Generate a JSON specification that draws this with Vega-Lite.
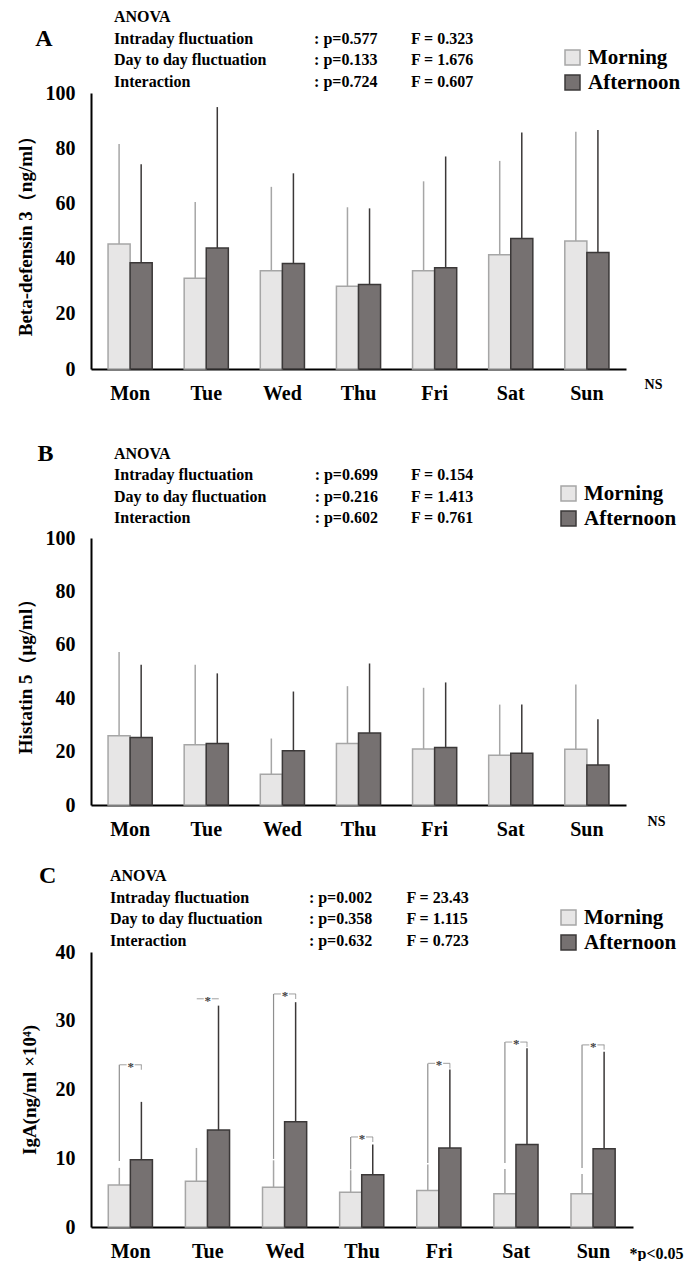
{
  "$schema": "https://vega.github.io/schema/vega-lite/v6.json",
  "padding": {"top": 9, "left": 16, "right": 0, "bottom": 0},
  "background": "white",
  "config": {
    "font": "Liberation Serif",
    "view": {"stroke": null},
    "axis": {"labelFont": "Liberation Serif", "labelFontWeight": "bold", "labelFontSize": 20, "labelColor": "black", "domainColor": "black", "domainWidth": 2, "ticks": false, "grid": false, "titleFont": "Liberation Serif", "titleFontWeight": "bold", "titleFontSize": 19, "titleColor": "black"},
    "axisX": {"labelPadding": 14, "labelAngle": 0},
    "axisY": {"labelPadding": 16, "titlePadding": 10},
    "legend": {"labelFont": "Liberation Serif", "labelFontWeight": "bold", "labelFontSize": 21, "labelColor": "black", "symbolType": "square", "symbolSize": 225, "symbolStrokeWidth": 1.5, "rowPadding": 3, "labelOffset": 5, "padding": 0},
    "text": {"font": "Liberation Serif", "fontWeight": "bold", "color": "black"}
  },
  "resolve": {"scale": {"fill": "independent", "stroke": "independent"}, "legend": {"fill": "independent", "stroke": "independent"}},
  "spacing": 25,
  "vconcat": [
    {
      "spacing": 39,
      "resolve": {"scale": {"fill": "independent", "stroke": "independent"}, "legend": {"fill": "independent", "stroke": "independent"}},
      "vconcat": [
        {
          "width": 535, "height": 276,
          "resolve": {"scale": {"x": "independent", "y": "independent"}},
          "layer": [
            {
              "data": {"values": [
                {"day": "Mon", "time": "Morning", "mean": 45.3, "upper": 81.5},
                {"day": "Mon", "time": "Afternoon", "mean": 38.5, "upper": 74.2},
                {"day": "Tue", "time": "Morning", "mean": 32.9, "upper": 60.5},
                {"day": "Tue", "time": "Afternoon", "mean": 43.8, "upper": 94.9},
                {"day": "Wed", "time": "Morning", "mean": 35.6, "upper": 66.0},
                {"day": "Wed", "time": "Afternoon", "mean": 38.2, "upper": 70.9},
                {"day": "Thu", "time": "Morning", "mean": 30.0, "upper": 58.6},
                {"day": "Thu", "time": "Afternoon", "mean": 30.6, "upper": 58.2},
                {"day": "Fri", "time": "Morning", "mean": 35.6, "upper": 68.0},
                {"day": "Fri", "time": "Afternoon", "mean": 36.7, "upper": 77.0},
                {"day": "Sat", "time": "Morning", "mean": 41.4, "upper": 75.4},
                {"day": "Sat", "time": "Afternoon", "mean": 47.3, "upper": 85.7},
                {"day": "Sun", "time": "Morning", "mean": 46.4, "upper": 86.0},
                {"day": "Sun", "time": "Afternoon", "mean": 42.2, "upper": 86.6}
              ]},
              "encoding": {
                "x": {"field": "day", "type": "nominal", "sort": ["Mon", "Tue", "Wed", "Thu", "Fri", "Sat", "Sun"], "scale": {"paddingInner": 0.42, "paddingOuter": 0.224}, "axis": {"title": "NS", "titleFontSize": 14, "titleX": 562, "titleY": 15, "titleAlign": "center", "titleBaseline": "middle"}}
              },
              "layer": [
                {
                  "mark": {"type": "bar", "strokeWidth": 1.5},
                  "encoding": {
                    "xOffset": {"field": "time", "type": "nominal", "sort": ["Morning", "Afternoon"]},
                    "y": {"field": "mean", "type": "quantitative", "scale": {"domain": [0, 100]}, "axis": {"values": [0, 20, 40, 60, 80, 100], "title": "Beta-defensin 3（ng/ml）"}},
                    "fill": {"field": "time", "type": "nominal", "scale": {"domain": ["Morning", "Afternoon"], "range": ["#e7e6e6", "#767171"]}, "legend": {"title": null, "orient": "none", "legendX": 471, "legendY": -46}},
                    "stroke": {"field": "time", "type": "nominal", "scale": {"domain": ["Morning", "Afternoon"], "range": ["#a6a6a6", "#3b3838"]}, "legend": {"title": null, "orient": "none", "legendX": 471, "legendY": -46}}
                  }
                },
                {
                  "mark": {"type": "rule", "strokeWidth": 1.5},
                  "encoding": {
                    "xOffset": {"field": "time", "type": "nominal", "sort": ["Morning", "Afternoon"]},
                    "y": {"field": "mean", "type": "quantitative"},
                    "y2": {"field": "upper"},
                    "stroke": {"field": "time", "type": "nominal"}
                  }
                }
              ]
            },
            {
              "data": {"values": [
                {"line": 0, "factor": "ANOVA", "p": "", "F": ""},
                {"line": 1, "factor": "Intraday fluctuation", "p": ": p=0.577", "F": "F = 0.323"},
                {"line": 2, "factor": "Day to day fluctuation", "p": ": p=0.133", "F": "F = 1.676"},
                {"line": 3, "factor": "Interaction", "p": ": p=0.724", "F": "F = 0.607"}
              ]},
              "encoding": {"y": {"field": "line", "type": "ordinal", "scale": {"type": "point", "padding": 0, "range": [-76, -11]}, "axis": null}},
              "layer": [
                {"mark": {"type": "text", "align": "left", "baseline": "middle", "fontSize": 16}, "encoding": {"x": {"datum": 0.043, "type": "quantitative", "scale": {"domain": [0, 1]}, "axis": null}, "text": {"field": "factor"}}},
                {"mark": {"type": "text", "align": "left", "baseline": "middle", "fontSize": 16}, "encoding": {"x": {"datum": 0.417, "type": "quantitative"}, "text": {"field": "p"}}},
                {"mark": {"type": "text", "align": "left", "baseline": "middle", "fontSize": 16}, "encoding": {"x": {"datum": 0.598, "type": "quantitative"}, "text": {"field": "F"}}},
                {"transform": [{"filter": "datum.line == 1"}], "mark": {"type": "text", "align": "center", "baseline": "middle", "fontSize": 24}, "encoding": {"x": {"datum": -0.088, "type": "quantitative"}, "text": {"value": "A"}}}
              ]
            }
          ]
        },
        {
          "width": 535, "height": 267,
          "resolve": {"scale": {"x": "independent", "y": "independent"}},
          "layer": [
            {
              "data": {"values": [
                {"day": "Mon", "time": "Morning", "mean": 25.9, "upper": 57.3},
                {"day": "Mon", "time": "Afternoon", "mean": 25.3, "upper": 52.5},
                {"day": "Tue", "time": "Morning", "mean": 22.6, "upper": 52.5},
                {"day": "Tue", "time": "Afternoon", "mean": 23.0, "upper": 49.3},
                {"day": "Wed", "time": "Morning", "mean": 11.5, "upper": 24.9},
                {"day": "Wed", "time": "Afternoon", "mean": 20.3, "upper": 42.5},
                {"day": "Thu", "time": "Morning", "mean": 23.0, "upper": 44.5},
                {"day": "Thu", "time": "Afternoon", "mean": 27.0, "upper": 53.0},
                {"day": "Fri", "time": "Morning", "mean": 21.0, "upper": 43.9},
                {"day": "Fri", "time": "Afternoon", "mean": 21.5, "upper": 45.9},
                {"day": "Sat", "time": "Morning", "mean": 18.6, "upper": 37.6},
                {"day": "Sat", "time": "Afternoon", "mean": 19.4, "upper": 37.6},
                {"day": "Sun", "time": "Morning", "mean": 20.9, "upper": 45.1},
                {"day": "Sun", "time": "Afternoon", "mean": 15.0, "upper": 32.1}
              ]},
              "encoding": {
                "x": {"field": "day", "type": "nominal", "sort": ["Mon", "Tue", "Wed", "Thu", "Fri", "Sat", "Sun"], "scale": {"paddingInner": 0.42, "paddingOuter": 0.224}, "axis": {"title": "NS", "titleFontSize": 14, "titleX": 565, "titleY": 16, "titleAlign": "center", "titleBaseline": "middle"}}
              },
              "layer": [
                {
                  "mark": {"type": "bar", "strokeWidth": 1.5},
                  "encoding": {
                    "xOffset": {"field": "time", "type": "nominal", "sort": ["Morning", "Afternoon"]},
                    "y": {"field": "mean", "type": "quantitative", "scale": {"domain": [0, 100]}, "axis": {"values": [0, 20, 40, 60, 80, 100], "title": "Histatin 5（μg/ml）"}},
                    "fill": {"field": "time", "type": "nominal", "scale": {"domain": ["Morning", "Afternoon"], "range": ["#e7e6e6", "#767171"]}, "legend": {"title": null, "orient": "none", "legendX": 467, "legendY": -55}},
                    "stroke": {"field": "time", "type": "nominal", "scale": {"domain": ["Morning", "Afternoon"], "range": ["#a6a6a6", "#3b3838"]}, "legend": {"title": null, "orient": "none", "legendX": 467, "legendY": -55}}
                  }
                },
                {
                  "mark": {"type": "rule", "strokeWidth": 1.5},
                  "encoding": {
                    "xOffset": {"field": "time", "type": "nominal", "sort": ["Morning", "Afternoon"]},
                    "y": {"field": "mean", "type": "quantitative"},
                    "y2": {"field": "upper"},
                    "stroke": {"field": "time", "type": "nominal"}
                  }
                }
              ]
            },
            {
              "data": {"values": [
                {"line": 0, "factor": "ANOVA", "p": "", "F": ""},
                {"line": 1, "factor": "Intraday fluctuation", "p": ": p=0.699", "F": "F = 0.154"},
                {"line": 2, "factor": "Day to day fluctuation", "p": ": p=0.216", "F": "F = 1.413"},
                {"line": 3, "factor": "Interaction", "p": ": p=0.602", "F": "F = 0.761"}
              ]},
              "encoding": {"y": {"field": "line", "type": "ordinal", "scale": {"type": "point", "padding": 0, "range": [-84, -20]}, "axis": null}},
              "layer": [
                {"mark": {"type": "text", "align": "left", "baseline": "middle", "fontSize": 16}, "encoding": {"x": {"datum": 0.043, "type": "quantitative", "scale": {"domain": [0, 1]}, "axis": null}, "text": {"field": "factor"}}},
                {"mark": {"type": "text", "align": "left", "baseline": "middle", "fontSize": 16}, "encoding": {"x": {"datum": 0.418, "type": "quantitative"}, "text": {"field": "p"}}},
                {"mark": {"type": "text", "align": "left", "baseline": "middle", "fontSize": 16}, "encoding": {"x": {"datum": 0.598, "type": "quantitative"}, "text": {"field": "F"}}},
                {"transform": [{"filter": "datum.line == 0"}], "mark": {"type": "text", "align": "center", "baseline": "middle", "fontSize": 24}, "encoding": {"x": {"datum": -0.085, "type": "quantitative"}, "text": {"value": "B"}}}
              ]
            }
          ]
        }
      ]
    },
    {
      "width": 542, "height": 275,
      "resolve": {"scale": {"x": "independent", "y": "independent"}},
      "layer": [
        {
          "encoding": {
            "x": {"field": "day", "type": "nominal", "sort": ["Mon", "Tue", "Wed", "Thu", "Fri", "Sat", "Sun"], "scale": {"paddingInner": 0.42, "paddingOuter": 0.224}, "axis": {"title": "*p<0.05", "titleFontSize": 16, "titleX": 565, "titleY": 26, "titleAlign": "center", "titleBaseline": "middle"}}
          },
          "layer": [
            {
              "data": {"values": [
                {"day": "Mon", "time": "Morning", "mean": 6.1, "upper": 8.6},
                {"day": "Mon", "time": "Afternoon", "mean": 9.8, "upper": 18.2},
                {"day": "Tue", "time": "Morning", "mean": 6.65, "upper": 11.5},
                {"day": "Tue", "time": "Afternoon", "mean": 14.1, "upper": 32.2},
                {"day": "Wed", "time": "Morning", "mean": 5.8, "upper": 9.7},
                {"day": "Wed", "time": "Afternoon", "mean": 15.3, "upper": 32.7},
                {"day": "Thu", "time": "Morning", "mean": 5.05, "upper": 8.25},
                {"day": "Thu", "time": "Afternoon", "mean": 7.6, "upper": 12.0},
                {"day": "Fri", "time": "Morning", "mean": 5.3, "upper": 9.1},
                {"day": "Fri", "time": "Afternoon", "mean": 11.5, "upper": 22.9},
                {"day": "Sat", "time": "Morning", "mean": 4.85, "upper": 8.45},
                {"day": "Sat", "time": "Afternoon", "mean": 12.0, "upper": 26.0},
                {"day": "Sun", "time": "Morning", "mean": 4.85, "upper": 7.7},
                {"day": "Sun", "time": "Afternoon", "mean": 11.4, "upper": 25.5}
              ]},
              "layer": [
                {
                  "mark": {"type": "bar", "strokeWidth": 1.5},
                  "encoding": {
                    "xOffset": {"field": "time", "type": "nominal", "sort": ["Morning", "Afternoon"]},
                    "y": {"field": "mean", "type": "quantitative", "scale": {"domain": [0, 40]}, "axis": {"values": [0, 10, 20, 30, 40], "title": "IgA(ng/ml ×10⁴)", "titlePadding": 16}},
                    "fill": {"field": "time", "type": "nominal", "scale": {"domain": ["Morning", "Afternoon"], "range": ["#e7e6e6", "#767171"]}, "legend": {"title": null, "orient": "none", "legendX": 467, "legendY": -45}},
                    "stroke": {"field": "time", "type": "nominal", "scale": {"domain": ["Morning", "Afternoon"], "range": ["#a6a6a6", "#3b3838"]}, "legend": {"title": null, "orient": "none", "legendX": 467, "legendY": -45}}
                  }
                },
                {
                  "mark": {"type": "rule", "strokeWidth": 1.5},
                  "encoding": {
                    "xOffset": {"field": "time", "type": "nominal", "sort": ["Morning", "Afternoon"]},
                    "y": {"field": "mean", "type": "quantitative"},
                    "y2": {"field": "upper"},
                    "stroke": {"field": "time", "type": "nominal"}
                  }
                }
              ]
            },
            {
              "data": {"values": [
                {"day": "Mon", "bracket": 23.6, "legFrom": 9.6},
                {"day": "Tue", "bracket": 33.2, "legFrom": null},
                {"day": "Wed", "bracket": 33.9, "legFrom": 9.9},
                {"day": "Thu", "bracket": 13.1, "legFrom": 8.4},
                {"day": "Fri", "bracket": 23.8, "legFrom": 9.3},
                {"day": "Sat", "bracket": 26.9, "legFrom": 9.3},
                {"day": "Sun", "bracket": 26.5, "legFrom": 8.6}
              ]},
              "layer": [
                {"transform": [{"filter": "datum.legFrom != null"}], "mark": {"type": "rule", "strokeWidth": 1.2, "color": "#8f8f8f"}, "encoding": {"xOffset": {"datum": "Morning"}, "y": {"field": "legFrom", "type": "quantitative"}, "y2": {"field": "bracket"}}},
                {"transform": [{"filter": "datum.legFrom != null"}], "mark": {"type": "tick", "orient": "vertical", "size": 5, "thickness": 1.2, "yOffset": 2.5, "color": "#8f8f8f"}, "encoding": {"xOffset": {"datum": "Afternoon"}, "y": {"field": "bracket", "type": "quantitative"}}},
                {"mark": {"type": "tick", "orient": "horizontal", "size": 22, "thickness": 1.2, "color": "#8f8f8f"}, "encoding": {"y": {"field": "bracket", "type": "quantitative"}}},
                {"mark": {"type": "point", "shape": "square", "size": 64, "filled": true, "color": "white", "opacity": 1}, "encoding": {"y": {"field": "bracket", "type": "quantitative"}}},
                {"mark": {"type": "text", "text": "*", "fontSize": 13, "baseline": "middle", "align": "center", "dy": 2, "color": "#444444"}, "encoding": {"y": {"field": "bracket", "type": "quantitative"}}}
              ]
            }
          ]
        },
        {
          "data": {"values": [
            {"line": 0, "factor": "ANOVA", "p": "", "F": ""},
            {"line": 1, "factor": "Intraday fluctuation", "p": ": p=0.002", "F": "F = 23.43"},
            {"line": 2, "factor": "Day to day fluctuation", "p": ": p=0.358", "F": "F = 1.115"},
            {"line": 3, "factor": "Interaction", "p": ": p=0.632", "F": "F = 0.723"}
          ]},
          "encoding": {"y": {"field": "line", "type": "ordinal", "scale": {"type": "point", "padding": 0, "range": [-76, -11]}, "axis": null}},
          "layer": [
            {"mark": {"type": "text", "align": "left", "baseline": "middle", "fontSize": 16}, "encoding": {"x": {"datum": 0.035, "type": "quantitative", "scale": {"domain": [0, 1]}, "axis": null}, "text": {"field": "factor"}}},
            {"mark": {"type": "text", "align": "left", "baseline": "middle", "fontSize": 16}, "encoding": {"x": {"datum": 0.402, "type": "quantitative"}, "text": {"field": "p"}}},
            {"mark": {"type": "text", "align": "left", "baseline": "middle", "fontSize": 16}, "encoding": {"x": {"datum": 0.582, "type": "quantitative"}, "text": {"field": "F"}}},
            {"transform": [{"filter": "datum.line == 0"}], "mark": {"type": "text", "align": "center", "baseline": "middle", "fontSize": 24}, "encoding": {"x": {"datum": -0.08, "type": "quantitative"}, "text": {"value": "C"}}}
          ]
        }
      ]
    }
  ]
}
